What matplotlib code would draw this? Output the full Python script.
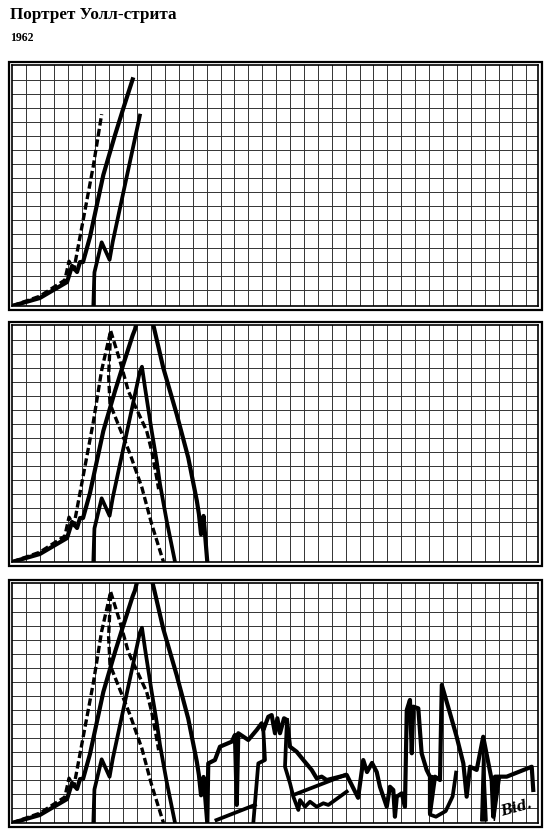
import matplotlib.pyplot as plt
from matplotlib.patches import Rectangle

W, H = 551, 836

# inner frame of each panel, in picture pixels
frame_left, frame_right = 12, 538
panel_tops = [65, 325, 583]
panel_bottoms = [306, 562, 823]
cell_w, cell_h = 13.9, 14.0

# values in grid cells (x from the left frame, y from the bottom frame)
# dashed curve: rise, peak, then a steep fall to the floor
dash_x = [0, 2.0, 3.8, 4.1, 4.45, 5.85, 6.45, 7.1, 6.95, 7.05, 8.5, 9.35, 10.05, 10.9]
dash_y = [0, 0.7, 1.85, 3.2, 2.6, 10.0, 13.7, 16.5, 13.3, 11.3, 7.7, 5.3, 2.7, 0]
# second dashed branch from the same peak
dash2_x = [7.1, 7.77, 8.37, 8.97, 9.69, 10.05, 10.41, 10.55]
dash2_y = [16.5, 14.36, 12.21, 10.9, 9.36, 7.93, 6.02, 5.2]

# main solid line, it leaves the top of the grid and comes back
main_x = [0, 2.0, 3.96, 4.32, 4.68, 4.89, 5.11, 5.61, 6.57, 7.41, 8.01, 8.68,
          8.85, 9.55, 10.24, 10.88, 11.85, 12.68, 13.3, 13.45, 13.6, 13.78, 14.05,
          14.12, 14.6, 14.96, 15.81, 16.04, 16.17, 16.28, 17.0, 17.6, 17.96, 18.08,
          18.44, 18.68, 18.92, 19.09, 19.28, 19.57, 19.78, 20.0, 20.48, 20.96, 21.56,
          21.92, 22.28, 22.64, 24.08, 24.9, 25.27, 25.54, 25.9, 26.24, 26.47, 26.96,
          27.19, 27.43, 27.55, 27.68, 28.04, 28.27, 28.4, 28.63, 28.76, 28.87, 29.23,
          29.47, 29.83, 30.07, 30.07, 30.43, 30.79, 30.92, 31.51, 31.99, 32.47, 32.71,
          32.95, 33.43, 33.9, 34.51, 34.62, 34.75, 35.59, 37.39, 37.5]
main_y = [0, 0.57, 1.71, 2.86, 2.43, 3.14, 3.14, 4.93, 9.36, 12.21, 14.12, 16.19,
          16.62, 19.5, 16.62, 13.88, 10.55, 7.45, 4.36, 3.4, 1.98, 3.29, 0.0,
          4.26, 4.5, 5.45, 5.81, 6.29, 1.29, 6.41, 5.93, 6.64, 7.12, 6.64,
          7.59, 7.71, 6.41, 7.48, 6.41, 7.48, 7.36, 5.45, 5.09, 4.5, 3.79,
          3.19, 3.31, 3.07, 3.43, 1.8, 4.5, 3.64, 4.29, 3.64, 2.59, 1.16,
          2.59, 2.36, 0.45, 1.88, 2.12, 1.16, 8.07, 8.79, 4.98, 8.31, 8.19,
          4.98, 3.79, 3.31, 0.69, 3.31, 3.07, 9.86, 7.84, 6.16, 4.26, 1.88,
          4.02, 3.79, 6.16, 3.07, 0.45, 3.31, 3.31, 4.02, 2.36]

# second solid line, starts later and peaks lower
second_x = [5.85, 5.93, 6.45, 7.02, 7.25, 9.2, 9.35, 9.57, 10.05, 10.41, 10.65, 11.13, 11.73]
second_y = [0, 2.4, 4.55, 3.3, 4.6, 13.6, 13.95, 12.45, 9.36, 7.21, 5.55, 2.93, 0]

# loose strokes of the crash in the last panel
shoe_x = [14.71, 17.48]
shoe_y = [0.21, 1.29]
post_x = [17.36, 17.72, 18.2, 18.08]
post_y = [0, 4.26, 4.5, 6.64]
bar_x = [20.24, 23.96]
bar_y = [2.0, 3.43]
jag_x = [19.78, 19.64, 20.0, 20.24, 20.6, 20.72, 21.08, 21.44, 21.92, 22.4, 22.76, 24.08]
jag_y = [7.36, 4.02, 2.84, 1.88, 0.93, 1.64, 1.16, 1.52, 1.16, 1.41, 1.29, 2.24]
hook_x = [30.2, 30.07, 30.5, 31.2, 31.7, 31.95]
hook_y = [3.3, 0.6, 0.45, 0.85, 1.9, 3.6]
spike_x = [33.72, 33.9, 34.18]
spike_y = [0.15, 6.16, 0.15]
wedge_x = [34.45, 35.15, 34.7]
wedge_y = [3.25, 3.35, 0.15]

# points shown in each panel (None = all)
dash_n = [7, None, None]
dash2_n = [0, None, None]
main_n = [12, 23, None]
second_n = [6, None, None]

fig = plt.figure(figsize=(W / 100, H / 100), dpi=100)
fig.patch.set_facecolor("white")

fig.text(10 / W, 1 - 15 / H, "Портрет Уолл-стрита", family="Liberation Serif",
         fontweight="bold", fontsize=12.3, va="center", ha="left")
fig.text(10 / W, 1 - 38 / H, "1962", family="Liberation Serif",
         fontweight="bold", fontsize=8.5, va="center", ha="left")

xmax = (frame_right - frame_left) / cell_w

for i in range(3):
    top, bot = panel_tops[i], panel_bottoms[i]
    ax = fig.add_axes([frame_left / W, 1 - bot / H,
                       (frame_right - frame_left) / W, (bot - top) / H])
    ymax = (bot - top) / cell_h
    ax.set_xlim(0, xmax)
    ax.set_ylim(0, ymax)
    ax.set_xticks(range(1, 38))
    ax.set_yticks([ymax - k - 0.05 for k in range(1, int(ymax))])
    ax.grid(True, color="#333333", lw=0.7)
    ax.set_axisbelow(True)
    ax.tick_params(length=0, labelbottom=False, labelleft=False)
    for s in ax.spines.values():
        s.set_linewidth(1.2)

    # outer line of the double frame
    pad = 3.5
    fig.add_artist(Rectangle(((frame_left - pad) / W, 1 - (bot + pad) / H),
                             (frame_right - frame_left + 2 * pad) / W,
                             (bot - top + 2 * pad) / H,
                             transform=fig.transFigure, fill=False,
                             lw=1.6, ec="black"))

    ax.plot(dash_x[:dash_n[i]], dash_y[:dash_n[i]], color="black", lw=2.4,
            dashes=(2.2, 1.0))
    if dash2_n[i] != 0:
        ax.plot(dash2_x[:dash2_n[i]], dash2_y[:dash2_n[i]], color="black",
                lw=2.4, dashes=(2.2, 1.0))
    ax.plot(main_x[:main_n[i]], main_y[:main_n[i]], color="black", lw=3.0)
    ax.plot(second_x[:second_n[i]], second_y[:second_n[i]], color="black", lw=2.7)

    if i == 2:
        for xs, ys in [(shoe_x, shoe_y), (post_x, post_y), (bar_x, bar_y),
                       (jag_x, jag_y), (hook_x, hook_y)]:
            ax.plot(xs, ys, color="black", lw=2.7)
        ax.fill(spike_x, spike_y, color="black")
        ax.fill(wedge_x, wedge_y, color="black")
        ax.text(36.3, 1.1, "Bid.", fontsize=10, style="italic", fontweight="bold",
                family="DejaVu Serif", ha="center", va="center", rotation=15)

fig.savefig("out.png", dpi=100, facecolor="white")
